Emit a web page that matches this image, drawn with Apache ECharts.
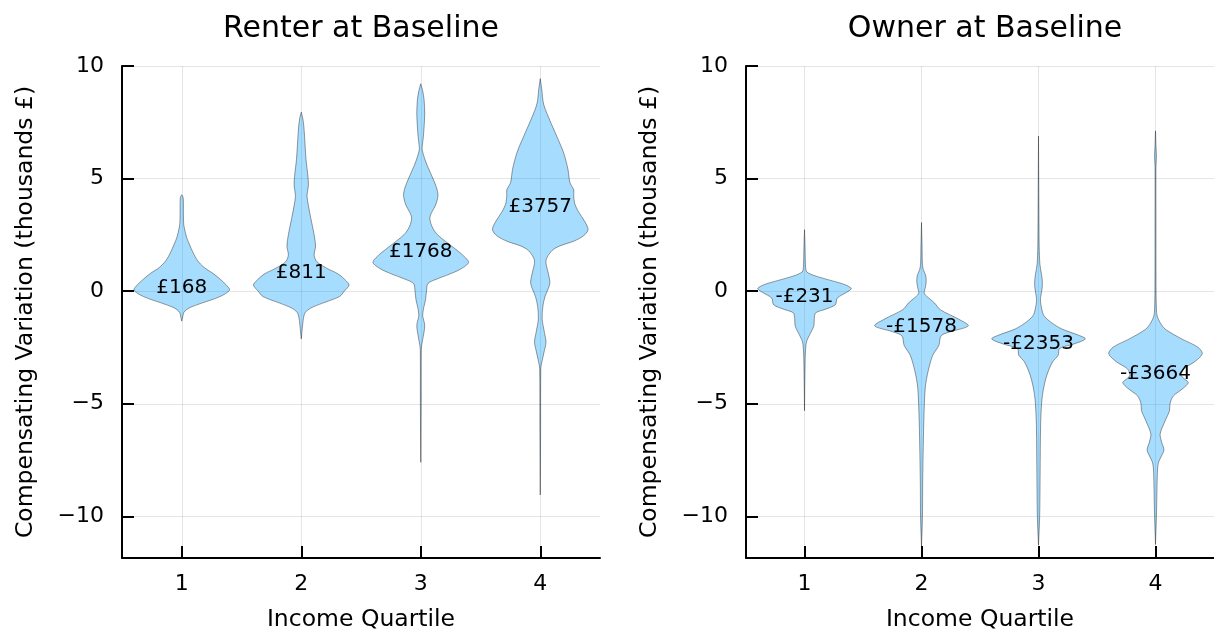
<!DOCTYPE html>
<html><head><meta charset="utf-8">
<script src="https://cdn.jsdelivr.net/npm/echarts@6/dist/echarts.min.js"></script>
<style>html,body{margin:0;padding:0;background:#fff}#c{width:1214px;height:637px}</style>
</head><body><div id="c"></div>
<script>
// ---- data ----
const quartiles = [1, 2, 3, 4];
const xTickLabels = ['1', '2', '3', '4'];
const yTicks = [-10, -5, 0, 5, 10];
const panelTitles = ['Renter at Baseline', 'Owner at Baseline'];
const renterMeans = [168, 811, 1768, 3757];   // £, label positions (thousands on axis)
const ownerMeans = [-231, -1578, -2353, -3664];

// violin outlines: [value (thousands £), relative density 0..1]
const renterQ1 = [[4.28,0],[4.15,0.03],[3.4,0.035],[3.0,0.04],[2.8,0.055],[2.4,0.1],[2.08,0.16],[1.7,0.24],[1.36,0.33],[1.05,0.47],[0.78,0.66],[0.5,0.82],[0.3,0.92],[0.05,1.0],[-0.24,0.8],[-0.53,0.42],[-0.7,0.2],[-0.82,0.1],[-0.96,0.04],[-1.15,0.02],[-1.33,0]];
const renterQ2 = [[7.95,0],[7.7,0.03],[7.3,0.055],[6.5,0.08],[5.85,0.1],[5.1,0.14],[4.69,0.15],[4.25,0.12],[3.8,0.15],[3.24,0.2],[2.5,0.27],[2.0,0.3],[1.6,0.27],[1.3,0.33],[1.0,0.55],[0.78,0.76],[0.5,0.92],[0.27,1.0],[0.0,0.9],[-0.24,0.8],[-0.53,0.45],[-0.75,0.2],[-0.96,0.08],[-1.3,0.04],[-1.7,0.02],[-2.12,0]];
const renterQ3 = [[9.21,0],[8.9,0.04],[8.5,0.07],[7.88,0.083],[7.3,0.07],[6.86,0.055],[6.5,0.035],[6.28,0.03],[5.9,0.08],[5.56,0.14],[4.98,0.26],[4.6,0.33],[4.25,0.36],[3.82,0.31],[3.5,0.23],[3.24,0.19],[2.85,0.24],[2.51,0.35],[1.93,0.69],[1.6,0.88],[1.28,1.0],[1.0,0.85],[0.78,0.63],[0.55,0.35],[0.34,0.15],[0.0,0.12],[-0.38,0.1],[-0.75,0.06],[-1.1,0.04],[-1.35,0.07],[-1.54,0.083],[-1.8,0.07],[-2.27,0.03],[-2.6,0.01],[-5.0,0.008],[-7.6,0]];
const renterQ4 = [[9.44,0],[9.0,0.03],[8.31,0.07],[7.59,0.2],[6.86,0.35],[6.14,0.49],[5.41,0.58],[4.83,0.62],[4.5,0.7],[4.25,0.7],[3.9,0.72],[3.53,0.8],[3.1,0.93],[2.73,1.0],[2.45,0.9],[2.22,0.7],[2.0,0.4],[1.79,0.24],[1.36,0.12],[0.78,0.17],[0.34,0.2],[-0.24,0.1],[-0.67,0.055],[-1.24,0.04],[-1.83,0.087],[-2.27,0.12],[-2.7,0.08],[-3.14,0.035],[-3.43,0.012],[-6.0,0.008],[-9.05,0]];
const ownerQ1 = [[2.73,0],[2.0,0.012],[1.2,0.02],[0.95,0.03],[0.85,0.05],[0.7,0.2],[0.49,0.54],[0.3,0.85],[0.12,1.0],[-0.05,0.9],[-0.31,0.7],[-0.6,0.66],[-0.8,0.45],[-0.96,0.24],[-1.2,0.21],[-1.54,0.2],[-1.98,0.1],[-2.2,0.05],[-2.41,0.03],[-3.0,0.015],[-5.31,0]];
const ownerQ2 = [[3.05,0],[2.0,0.012],[1.2,0.02],[0.95,0.04],[0.7,0.09],[0.4,0.1],[0.15,0.08],[-0.1,0.06],[-0.35,0.18],[-0.53,0.28],[-0.82,0.4],[-1.25,0.8],[-1.54,1.0],[-1.8,0.62],[-1.98,0.42],[-2.41,0.37],[-2.85,0.24],[-3.57,0.14],[-4.3,0.08],[-5.74,0.05],[-7.2,0.035],[-8.6,0.025],[-10.1,0.02],[-11.33,0]];
const ownerQ3 = [[6.89,0],[4.0,0.008],[2.0,0.015],[1.2,0.03],[0.8,0.06],[0.5,0.08],[0.2,0.08],[-0.1,0.06],[-0.38,0.04],[-0.8,0.07],[-1.1,0.12],[-1.4,0.28],[-1.68,0.5],[-1.95,0.85],[-2.12,1.0],[-2.35,0.75],[-2.55,0.45],[-2.85,0.42],[-3.14,0.3],[-3.72,0.18],[-4.3,0.11],[-4.88,0.07],[-6.0,0.045],[-8.0,0.035],[-10.0,0.025],[-11.28,0]];
const ownerQ4 = [[7.12,0],[6.5,0.01],[6.0,0.02],[5.5,0.01],[3.0,0.01],[0.0,0.012],[-0.8,0.02],[-1.1,0.035],[-1.4,0.1],[-1.69,0.21],[-2.12,0.56],[-2.48,0.9],[-2.77,1.0],[-3.13,0.84],[-3.45,0.6],[-3.75,0.55],[-4.0,0.68],[-4.08,0.7],[-4.3,0.6],[-4.66,0.38],[-5.0,0.31],[-5.3,0.3],[-5.74,0.21],[-6.33,0.1],[-6.7,0.13],[-7.05,0.18],[-7.35,0.12],[-7.63,0.06],[-8.07,0.04],[-10.0,0.02],[-11.25,0]];

const renterViolins = [renterQ1, renterQ2, renterQ3, renterQ4];
const ownerViolins = [ownerQ1, ownerQ2, ownerQ3, ownerQ4];

// ---- styling ----
const FONT = 'DejaVu Sans';
const HALF = 0.4;
const FILL = 'rgba(0,154,250,0.35)';
const STROKE = 'rgba(0,0,0,0.38)';

function fmtMoney(m) { return (m < 0 ? '-£' : '£') + Math.abs(m); }

function violinSeries(profiles, gi) {
  return {
    type: 'custom', xAxisIndex: gi, yAxisIndex: gi, z: 3, silent: true,
    data: quartiles.map((q, i) => [q, i]),
    renderItem: function (params, api) {
      const q = api.value(0), prof = profiles[api.value(1)];
      const right = prof.map(p => api.coord([q + p[1] * HALF, p[0]]));
      const left = prof.slice().reverse().map(p => api.coord([q - p[1] * HALF, p[0]]));
      return { type: 'polygon', shape: { points: right.concat(left), smooth: 0.3 },
        style: { fill: FILL, stroke: STROKE, lineWidth: 1 } };
    }
  };
}
function labelSeries(means, gi) {
  return {
    type: 'custom', xAxisIndex: gi, yAxisIndex: gi, z: 5, silent: true,
    data: quartiles.map((q, i) => [q, means[i] / 1000, i]),
    renderItem: function (params, api) {
      const pt = api.coord([api.value(0), api.value(1)]);
      return { type: 'text', x: pt[0], y: pt[1],
        style: { text: fmtMoney(means[api.value(2)]), fill: '#000', font: '20px ' + FONT, align: 'center', verticalAlign: 'middle' } };
    }
  };
}

const grids = [
  { left: 122, top: 66, width: 478, height: 502 },
  { left: 746, top: 66, width: 478, height: 502 }
];
function xAxis(gi) {
  return {
    type: 'value', gridIndex: gi, min: 0.5, max: 4.5,
    name: 'Income Quartile', nameLocation: 'middle', nameGap: 50,
    nameTextStyle: { fontFamily: FONT, fontSize: 23.5, color: '#000' },
    axisLine: { show: true, onZero: false, lineStyle: { color: '#000', width: 2 } },
    axisTick: { show: true, inside: true, length: 12, lineStyle: { color: '#000', width: 2 }, customValues: quartiles },
    axisLabel: { customValues: quartiles, formatter: v => xTickLabels[quartiles.indexOf(v)], fontFamily: FONT, fontSize: 22, color: '#000', margin: 15 },
    splitLine: { show: true, lineStyle: { color: 'rgba(0,0,0,0.1)', width: 1 } }
  };
}
function yAxis(gi) {
  return {
    type: 'value', gridIndex: gi, min: -11.85, max: 10,
    name: 'Compensating Variation (thousands £)', nameLocation: 'middle', nameGap: 84, nameRotate: 90,
    nameTextStyle: { fontFamily: FONT, fontSize: 23.5, color: '#000' },
    axisLine: { show: true, onZero: false, lineStyle: { color: '#000', width: 2 } },
    axisTick: { show: true, inside: true, length: 12, lineStyle: { color: '#000', width: 2 }, customValues: yTicks },
    axisLabel: { customValues: yTicks, formatter: v => (v < 0 ? '\u2212' + Math.abs(v) : String(v)), fontFamily: FONT, fontSize: 22, color: '#000', margin: 18 },
    splitLine: { show: true, lineStyle: { color: 'rgba(0,0,0,0.1)', width: 1 } }
  };
}

const chart = echarts.init(document.getElementById('c'), null, { renderer: 'canvas' });
chart.setOption({
  backgroundColor: '#fff',
  animation: false,
  textStyle: { fontFamily: FONT },
  title: [
    { text: panelTitles[0], left: 361, top: 14, textAlign: 'center', padding: 0, textStyle: { fontFamily: FONT, fontSize: 30, fontWeight: 'normal', color: '#000' } },
    { text: panelTitles[1], left: 985, top: 14, textAlign: 'center', padding: 0, textStyle: { fontFamily: FONT, fontSize: 30, fontWeight: 'normal', color: '#000' } }
  ],
  grid: grids,
  xAxis: [xAxis(0), xAxis(1)],
  yAxis: [yAxis(0), yAxis(1)],
  series: [violinSeries(renterViolins, 0), violinSeries(ownerViolins, 1), labelSeries(renterMeans, 0), labelSeries(ownerMeans, 1)]
});
</script></body></html>
